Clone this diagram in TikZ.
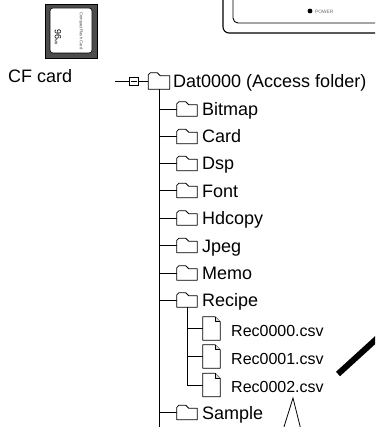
\documentclass[tikz,border=0pt]{standalone}
\usepackage{fontspec}
\setmainfont{Liberation Sans}
\usetikzlibrary{positioning}

\tikzstyle{folder}=[minimum width=20pt, minimum height=14pt, inner sep=0pt]
\tikzstyle{file}=[minimum width=17pt, minimum height=23pt, inner sep=0pt]
\tikzstyle{entry}=[font=\fontsize{18}{18}\selectfont, inner sep=0pt, anchor=base west]
\tikzstyle{fentry}=[font=\fontsize{16}{16}\selectfont, inner sep=0pt, anchor=base west]
\tikzstyle{icon}=[draw, line width=0.8pt, line join=round, fill=white]
\tikzstyle{branch}=[draw, line width=0.8pt]

% folder outline over an empty node
\newcommand{\drawfolder}[1]{
    \path[icon] (#1.south west) -- ([yshift=-2pt]#1.north west)
        -- ([xshift=2pt]#1.north west) -- ([xshift=9pt]#1.north west)
        -- ([xshift=12pt,yshift=-3pt]#1.north west) -- ([yshift=-3pt]#1.north east)
        -- (#1.south east) -- cycle;
}
% sheet with a folded corner
\newcommand{\drawfile}[1]{
    \path[icon] (#1.south west) -- (#1.north west) -- ([xshift=-5pt]#1.north east)
        -- ([yshift=-5pt]#1.north east) -- (#1.south east) -- cycle;
    \path[icon, fill=black!15] ([xshift=-5pt]#1.north east)
        -- ([xshift=-5pt,yshift=-5pt]#1.north east) -- ([yshift=-5pt]#1.north east);
}

\begin{document}
\begin{tikzpicture}[x=1pt, y=-1pt]
    \useasboundingbox (0,0) rectangle (375,427);
    \clip (0,0) rectangle (375,427);

    % corner of the unit with the power lamp
    \draw[line width=1.1pt, rounded corners=6pt] (223,-10) -- (223,33) -- (390,33);
    \draw[line width=0.9pt, rounded corners=5pt] (233,-10) -- (233,23) -- (390,23);
    \fill (310,11) circle (2.4pt);
    \node[font=\fontsize{4.8}{5}\selectfont, text=black!60, anchor=west, inner sep=0pt] (power) at (315,11.5) {POWER};

    % the card itself
    \draw[fill=black!70, line width=0.6pt] (45,4) rectangle (97,58);
    \draw[fill=white, line width=0.6pt, rounded corners=3pt] (50,8) rectangle (92,53);
    \node[rotate=-90, font=\fontsize{4.2}{5}\selectfont, text=black!70, inner sep=0pt] (cflogo) at (81,31) {CompactFlash Card};
    \node[rotate=-90, inner sep=0pt] (cfsize) at (58,37) {\fontsize{9}{9}\selectfont 96\fontsize{3.5}{4}\selectfont MB};
    \node[entry] (cfcard) at (8,83) {CF card};

    % root of the tree
    \coordinate (cfroot) at (115,81);
    \node[draw, line width=0.6pt, minimum width=9pt, minimum height=8pt, inner sep=0pt] (collapse) at (134,81) {};
    \draw[line width=0.6pt] ([xshift=2pt]collapse.west) -- ([xshift=-2pt]collapse.east);
    \node[folder, minimum width=21pt, minimum height=16pt] (dat) at (159,81) {};
    \node[entry] (dat-t) at (173,87.5) {Dat0000 (Access folder)};

    % sub folders
    \foreach \y/\name/\txt in {109/bitmap/Bitmap, 136.5/card/Card, 163.5/dsp/Dsp,
            190.5/font/Font, 218/hdcopy/Hdcopy, 245.5/jpeg/Jpeg, 273/memo/Memo,
            300/recipe/Recipe, 412.5/sample/Sample}
    {
        \node[folder] (\name) at (187,\y) {};
        \node[entry] (\name-t) at (202,\y+6.5) {\txt};
    }
    % files in Recipe
    \foreach \y/\name/\txt in {328.5/rec0/Rec0000.csv, 356.5/rec1/Rec0001.csv, 385/rec2/Rec0002.csv}
    {
        \node[file] (\name) at (211.5,\y) {};
        \node[fentry] (\name-t) at (231,\y+7.5) {\txt};
    }

    % branches
    \coordinate (trunkend) at (159,430);
    \draw[branch] (cfroot) -- (collapse.west);
    \draw[branch] (collapse.east) -- (dat.west);
    \draw[branch] (dat.south) -- (trunkend);
    \foreach \name in {bitmap,card,dsp,font,hdcopy,jpeg,memo,recipe,sample}
        \draw[branch] (dat.south) |- (\name.west);
    \foreach \name in {rec0,rec1,rec2}
        \draw[branch] (recipe.south) |- (\name.west);

    % icons on top of the branches
    \foreach \name in {dat,bitmap,card,dsp,font,hdcopy,jpeg,memo,recipe,sample}
        \drawfolder{\name};
    \foreach \name in {rec0,rec1,rec2}
        \drawfile{\name};

    % slanted bar and callout tip
    \coordinate (bar) at (338,374);
    \draw[line width=6pt] (bar) -- ++(45,-41);
    \coordinate (tip) at (293,398);
    \draw[line width=0.8pt] (283,430) -- (tip) -- (301,430);
\end{tikzpicture}
\end{document}
